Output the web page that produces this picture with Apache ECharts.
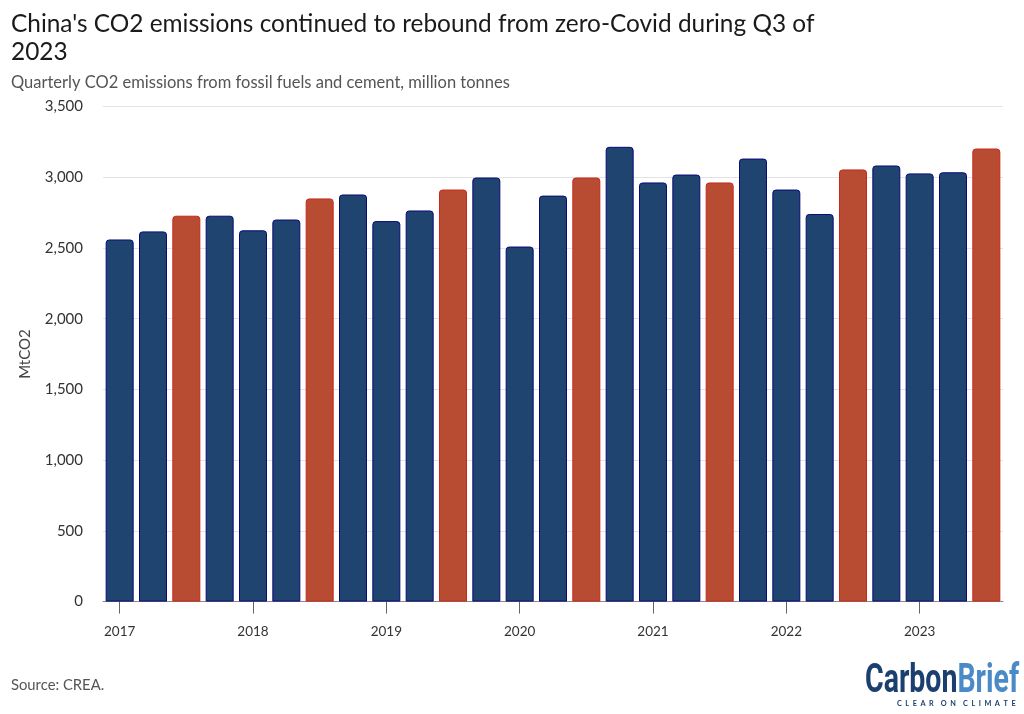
<!DOCTYPE html>
<html lang="en">
<head>
  <meta charset="UTF-8">
  <title>China CO2 emissions</title>
  <script src="https://cdn.jsdelivr.net/npm/echarts/dist/echarts.min.js"></script>
  <style>
    html, body { margin: 0; padding: 0; background: #fff; }
    #main { width: 1024px; height: 714px; }
  </style>
</head>
<body>
<div id="main"></div>
<script>
  const quarters = [
    '2017 Q1', '2017 Q2', '2017 Q3', '2017 Q4',
    '2018 Q1', '2018 Q2', '2018 Q3', '2018 Q4',
    '2019 Q1', '2019 Q2', '2019 Q3', '2019 Q4',
    '2020 Q1', '2020 Q2', '2020 Q3', '2020 Q4',
    '2021 Q1', '2021 Q2', '2021 Q3', '2021 Q4',
    '2022 Q1', '2022 Q2', '2022 Q3', '2022 Q4',
    '2023 Q1', '2023 Q2', '2023 Q3'
  ];
  const emissions = [
    2560, 2617, 2728, 2728,
    2625, 2701, 2850, 2878,
    2690, 2765, 2913, 2998,
    2510, 2870, 2998, 3215,
    2963, 3019, 2963, 3132,
    2913, 2740, 3055, 3083,
    3027, 3035, 3203
  ];

  const font = 'Lato, "Noto Sans", sans-serif';
  const logoFont = 'Roboto, sans-serif';
  const chart = echarts.init(document.getElementById('main'));

  chart.setOption({
    animation: false,
    backgroundColor: '#fff',
    title: [
      {
        text: "China's CO2 emissions continued to rebound from zero-Covid during Q3 of\n2023",
        left: 11, top: 10, padding: 0,
        textStyle: { fontFamily: font, fontSize: 24.4, fontWeight: 'normal', color: '#1a1a1a', lineHeight: 28 }
      },
      {
        text: 'Quarterly CO2 emissions from fossil fuels and cement, million tonnes',
        left: 11, top: 73, padding: 0,
        textStyle: { fontFamily: font, fontSize: 16.5, fontWeight: 'normal', color: '#555', lineHeight: 20 }
      },
      {
        text: 'Source: CREA.',
        left: 11, top: 676, padding: 0,
        textStyle: { fontFamily: font, fontSize: 14.8, fontWeight: 'normal', color: '#555', lineHeight: 18 }
      }
    ],
    grid: { left: 103, right: 21, top: 106.5, bottom: 112.4 },
    xAxis: {
      type: 'category',
      data: quarters,
      axisLine: { show: true, lineStyle: { color: '#888', width: 1 } },
      axisTick: { show: true, alignWithLabel: true, interval: 3, length: 12, lineStyle: { color: '#666' } },
      axisLabel: {
        show: true,
        interval: 3,
        margin: 23,
        fontFamily: font,
        fontSize: 13.5,
        color: '#333',
        formatter: v => v.slice(0, 4)
      }
    },
    yAxis: {
      type: 'value',
      min: 0,
      max: 3500,
      interval: 500,
      name: 'MtCO2',
      nameLocation: 'middle',
      nameGap: 70,
      nameTextStyle: { fontFamily: font, fontSize: 15, color: '#444' },
      axisLine: { show: false },
      axisTick: { show: false },
      axisLabel: {
        margin: 20,
        padding: [0, 0, 2, 0],
        fontFamily: font,
        fontSize: 15,
        color: '#333',
        formatter: v => v.toLocaleString('en-US')
      },
      splitLine: { lineStyle: { color: '#e3e3e3', width: 1 } }
    },
    series: [{
      type: 'bar',
      data: emissions.map((v, i) => {
        const isQ3 = quarters[i].endsWith('Q3'); // Q3 bars are highlighted
        return {
          value: v,
          itemStyle: {
            color: isQ3 ? '#b84c33' : '#1f4470',
            borderColor: isQ3 ? '#c8281a' : '#0a0a78',
            borderWidth: 1,
            borderRadius: [3, 3, 0, 0]
          }
        };
      }),
      barWidth: 28
    }],
    graphic: [
      {
        type: 'text', x: 865, y: 661, scaleX: 0.695,
        style: {
          rich: {
            a: { fontFamily: logoFont, fontSize: 41, fontWeight: 'bold', fill: '#1b3f6e' },
            b: { fontFamily: logoFont, fontSize: 41, fontWeight: 'bold', fill: '#4a8ac6' }
          },
          text: '{a|Carbon}{b|Brief}'
        }
      },
      {
        type: 'text', x: 897, y: 700,
        style: {
          text: 'C  L  E  A  R    O  N    C  L  I  M  A  T  E',
          fontFamily: font, fontSize: 7.3, fontWeight: 'bold', fill: '#1b3f6e'
        }
      }
    ]
  });
</script>
</body>
</html>
